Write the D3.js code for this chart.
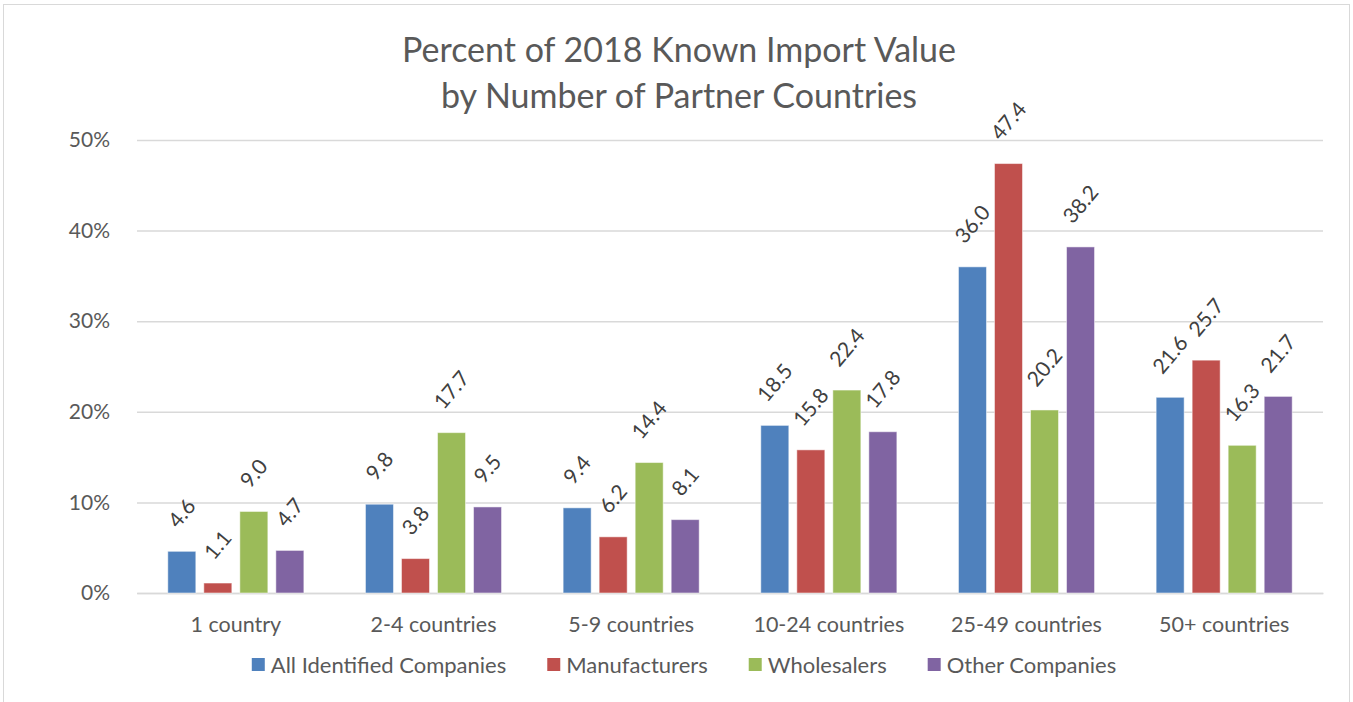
<!DOCTYPE html>
<html><head><meta charset="utf-8">
<script src="https://cdn.jsdelivr.net/npm/d3@7"></script>
<style>
html,body{margin:0;padding:0;background:#fff;}
text{font-family:Lato,"Open Sans",sans-serif;fill:#595959;}
</style></head>
<body><svg id="c" width="1353" height="702"></svg>
<script>
const categories = ["1 country","2-4 countries","5-9 countries","10-24 countries","25-49 countries","50+ countries"];
const seriesNames = ["All Identified Companies","Manufacturers","Wholesalers","Other Companies"];
const allIdentified = [4.6, 9.8, 9.4, 18.5, 36.0, 21.6];
const manufacturers = [1.1, 3.8, 6.2, 15.8, 47.4, 25.7];
const wholesalers = [9.0, 17.7, 14.4, 22.4, 20.2, 16.3];
const otherCompanies = [4.7, 9.5, 8.1, 17.8, 38.2, 21.7];
const yTicks = [0, 10, 20, 30, 40, 50];
const titleLines = ["Percent of 2018 Known Import Value", "by Number of Partner Countries"];
const colors = ["#4F81BD","#C0504D","#9BBB59","#8064A2"];

const seriesValues = [allIdentified, manufacturers, wholesalers, otherCompanies];
const svg = d3.select("#c");

// chart border
svg.append("rect").attr("x",3.5).attr("y",4.5).attr("width",1346).attr("height",710)
  .attr("fill","#fff").attr("stroke","#D9D9D9").attr("stroke-width",1);

const pLeft = 137, pRight = 1323, pTop = 140, pBottom = 593;
const x0 = d3.scaleBand().domain(categories).range([pLeft, pRight]).paddingInner(0).paddingOuter(0);
const groupW = x0.bandwidth();
const x1 = d3.scaleBand().domain(seriesNames).range([30.8, groupW - 30.8]).paddingInner(8/36).paddingOuter(0);
const y = d3.scaleLinear().domain([0, 50]).range([pBottom, pTop]);

// title
svg.append("g").selectAll("text").data(titleLines).join("text")
  .attr("x", 679).attr("y", (d,i)=> 62 + i*46)
  .attr("text-anchor","middle").style("font-size","34px").text(d=>d);

// gridlines
const yAxis = d3.axisLeft(y).tickValues(yTicks).tickFormat(d=>d+"%").tickSize(-(pRight-pLeft)).tickPadding(27);
const ga = svg.append("g").attr("transform",`translate(${pLeft},0)`).call(yAxis);
ga.select(".domain").remove();
ga.selectAll(".tick line").attr("stroke","#D9D9D9").attr("stroke-width",1.5);
ga.selectAll(".tick text").style("font-size","21px").style("fill","#595959").attr("font-family",null);

// x axis labels
const xAxis = d3.axisBottom(x0).tickSize(0).tickPadding(24);
const gx = svg.append("g").attr("transform",`translate(0,${pBottom})`).call(xAxis);
gx.select(".domain").attr("stroke","#D9D9D9").attr("stroke-width",1.5);
gx.selectAll(".tick text").style("font-size","21.5px").style("fill","#595959").attr("font-family",null);

// bars
const data = [];
categories.forEach((c,ci)=> seriesNames.forEach((s,si)=> data.push({c, s, si, v: seriesValues[si][ci]})));
const bars = svg.append("g");
bars.selectAll("rect").data(data).join("rect")
  .attr("x", d=> x0(d.c) + x1(d.s))
  .attr("y", d=> y(d.v))
  .attr("width", x1.bandwidth())
  .attr("height", d=> y(0) - y(d.v))
  .attr("fill", (d)=> colors[d.si])
  .attr("stroke","#fff").attr("stroke-opacity",0.5).attr("stroke-width",1);

// labels
const ang = 50, rad = ang*Math.PI/180;
const lg = svg.append("g");
data.forEach(d=>{
  const cx = x0(d.c) + x1(d.s) + x1.bandwidth()/2;
  const t = lg.append("text").attr("text-anchor","middle").attr("dy","0.35em")
    .style("font-size","21px").style("fill","#404040").text(d.v.toFixed(1));
  const w = t.node().getComputedTextLength();
  const h = 15;
  const bh = w*Math.sin(rad) + h*Math.cos(rad);
  const cy = y(d.v) - 22 - bh/2;
  t.attr("transform",`translate(${cx},${cy}) rotate(${-ang})`);
});

// legend
const legend = svg.append("g");
const items = seriesNames.map((s,i)=>{
  const g = legend.append("g");
  g.append("rect").attr("x",0).attr("y",-7).attr("width",13).attr("height",13).attr("fill",colors[i]);
  const t = g.append("text").attr("x",19).attr("y",0).attr("dy","0.35em").style("font-size","22px").text(s);
  return {g, w: 19 + t.node().getComputedTextLength()};
});
const gap = 41;
const total = d3.sum(items, d=>d.w) + gap*(items.length-1);
let lx = 684 - total/2;
items.forEach(it=>{ it.g.attr("transform",`translate(${lx},665)`); lx += it.w + gap; });
</script></body></html>
